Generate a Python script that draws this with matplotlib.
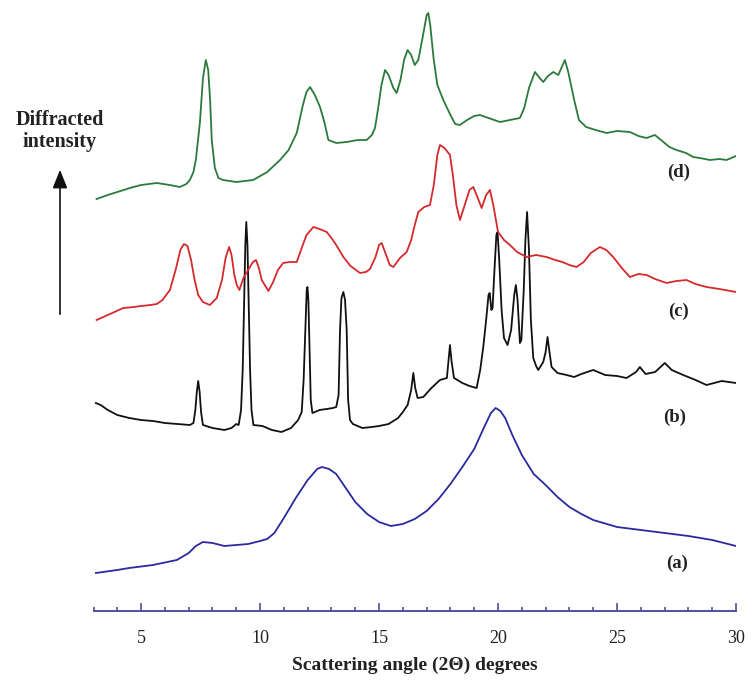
import matplotlib
matplotlib.use("Agg")
import matplotlib.pyplot as plt
from matplotlib.patches import FancyArrowPatch
from matplotlib.ticker import MultipleLocator

# ---- diffraction patterns (2-theta in degrees, intensity in arbitrary units) ----
two_theta_a = [3.1, 4.0, 4.5, 5.5, 6.5, 7.0, 7.3, 7.6, 8.0, 8.5, 9.0, 9.5, 10.0,
               10.3, 10.6, 11.0, 11.5, 12.0, 12.4, 12.6, 12.9, 13.2, 13.6, 14.0,
               14.5, 15.0, 15.5, 16.0, 16.5, 17.0, 17.5, 18.0, 18.5, 19.0, 19.4,
               19.7, 19.9, 20.1, 20.3, 20.6, 21.0, 21.5, 22.0, 22.5, 23.0, 23.5,
               24.0, 25.0, 26.0, 27.0, 28.0, 29.0, 30.0]
intensity_a = [0, 3, 5, 8, 13, 20, 27, 31, 30, 27, 28, 29, 32,
               34, 40, 55, 75, 93, 104, 106, 104, 99, 85, 71,
               59, 51, 47, 49, 54, 62, 74, 89, 106, 124, 145,
               160, 165, 162, 155, 138, 118, 99, 88, 76, 66, 59,
               53, 46, 43, 40, 37, 33, 27]

two_theta_b = [3.1, 3.3, 3.6, 4.0, 4.5, 5.0, 5.5, 6.0, 6.5, 7.05, 7.2, 7.28, 7.34,
               7.4, 7.46, 7.52, 7.6, 8.0, 8.5, 8.8, 9.0, 9.1, 9.2, 9.27, 9.33,
               9.38, 9.42, 9.47, 9.52, 9.58, 9.64, 9.72, 10.1, 10.5, 10.9, 11.3,
               11.6, 11.75, 11.83, 11.9, 11.96, 11.99, 12.03, 12.08, 12.13, 12.2,
               12.5, 12.8, 13.06, 13.2, 13.3, 13.36, 13.42, 13.5, 13.57, 13.64,
               13.7, 13.78, 13.9, 14.3, 14.7, 15.0, 15.4, 15.8, 16.0, 16.2, 16.35,
               16.44, 16.52, 16.62, 16.86, 17.2, 17.56, 17.85, 17.92, 17.98, 18.05,
               18.15, 18.5, 18.8, 19.1, 19.25, 19.38, 19.5, 19.6, 19.65, 19.72,
               19.77, 19.85, 19.93, 19.98, 20.05, 20.15, 20.25, 20.4, 20.55, 20.68,
               20.75, 20.82, 20.92, 20.98, 21.08, 21.15, 21.22, 21.3, 21.38, 21.48,
               21.6, 21.69, 21.9, 22.0, 22.08, 22.15, 22.25, 22.5, 22.88, 23.2,
               23.5, 24.0, 24.5, 25.0, 25.4, 25.8, 25.96, 26.2, 26.6, 27.01, 27.3,
               27.78, 28.3, 28.76, 29.4, 30.0]
intensity_b = [22, 20, 15, 10, 7, 5, 4, 2, 1, 0, 2, 15, 33,
               44, 33, 13, 0, -3, -5, -3, 1, 0, 15, 55, 125,
               180, 203, 180, 125, 55, 15, 0, -1, -5, -7, -3,
               5, 13, 45, 95, 135, 138, 125, 75, 25, 12,
               15, 16, 17, 18, 30, 95, 127, 133, 125, 95,
               25, 5, 1, -3, -2, -1, 1, 7, 13, 20, 35,
               52, 37, 27, 28, 37, 45, 47, 65, 80, 63,
               47, 42, 39, 37, 55, 78, 105, 130, 132, 115,
               117, 155, 190, 193, 165, 115, 87, 80, 95, 130,
               140, 125, 82, 85, 135, 185, 213, 175, 105, 67,
               59, 55, 63, 73, 88, 75, 58, 52, 50, 48,
               51, 55, 50, 49, 47, 53, 58, 51, 53, 62, 55,
               50, 45, 40, 44, 42]

two_theta_c = [3.13, 3.6, 4.25, 4.7, 5.0, 5.4, 5.66, 5.9, 6.21, 6.45, 6.65, 6.8,
               6.95, 7.1, 7.25, 7.4, 7.6, 7.89, 8.18, 8.4, 8.55, 8.7, 8.8, 8.92,
               9.02, 9.13, 9.3, 9.5, 9.7, 9.83, 9.95, 10.07, 10.35, 10.55, 10.75,
               10.97, 11.25, 11.54, 11.75, 11.95, 12.24, 12.5, 12.8, 13.0, 13.2,
               13.5, 13.8, 14.2, 14.45, 14.62, 14.85, 15.0, 15.11, 15.25, 15.45,
               15.6, 15.88, 16.16, 16.35, 16.5, 16.65, 16.9, 17.14, 17.3, 17.45,
               17.56, 17.75, 17.98, 18.1, 18.25, 18.4, 18.6, 18.8, 18.96, 19.15,
               19.31, 19.5, 19.66, 19.8, 20.0, 20.25, 20.5, 20.8, 21.2, 21.6,
               22.04, 22.4, 22.7, 23.0, 23.3, 23.6, 23.9, 24.28, 24.55, 24.84,
               25.2, 25.54, 25.9, 26.24, 26.6, 27.08, 27.5, 27.92, 28.3, 28.76,
               29.3, 30.0]
intensity_c = [0, 5, 12, 13, 14, 15, 16, 20, 30, 50, 70, 76,
               74, 60, 40, 25, 18, 15, 22, 40, 62, 73, 65, 45,
               35, 30, 42, 50, 58, 60, 52, 40, 29, 38, 50,
               57, 58, 58, 72, 85, 93, 91, 88, 82, 75,
               63, 54, 47, 48, 51, 63, 75, 77, 68, 55,
               53, 62, 68, 80, 95, 108, 113, 115, 135, 165,
               175, 172, 165, 145, 115, 100, 115, 130, 133, 122,
               112, 125, 130, 115, 88, 80, 75, 68, 63, 65,
               63, 60, 58, 55, 53, 58, 67, 73, 70, 63,
               52, 43, 46, 45, 41, 37, 39, 40, 36, 33,
               31, 28]

two_theta_d = [3.13, 3.6, 4.0, 4.53, 5.0, 5.66, 6.2, 6.63, 6.9, 7.05, 7.2, 7.3,
               7.47, 7.6, 7.72, 7.82, 7.9, 7.97, 8.1, 8.25, 8.45, 9.0, 9.71, 10.3,
               10.84, 11.2, 11.54, 11.8, 11.95, 12.1, 12.3, 12.52, 12.7, 12.87,
               13.2, 13.64, 14.1, 14.48, 14.7, 14.83, 14.95, 15.1, 15.25, 15.4,
               15.6, 15.74, 15.9, 16.05, 16.2, 16.35, 16.5, 16.65, 16.85, 17.0,
               17.07, 17.15, 17.3, 17.45, 17.7, 18.0, 18.2, 18.4, 18.7, 19.0,
               19.24, 19.6, 20.08, 20.5, 20.92, 21.1, 21.3, 21.55, 21.75, 21.9,
               22.1, 22.32, 22.53, 22.7, 22.81, 22.95, 23.2, 23.4, 23.7, 24.1,
               24.56, 25.0, 25.54, 25.9, 26.24, 26.59, 26.9, 27.2, 27.5, 27.9,
               28.2, 28.48, 28.9, 29.3, 29.6, 30.0]
intensity_d = [0, 4, 7, 11, 14, 16, 14, 12, 15, 19, 27, 39,
               76, 121, 139, 129, 99, 59, 31, 21, 19, 17, 19, 27,
               39, 49, 66, 94, 107, 112, 104, 92, 77, 59,
               56, 57, 59, 59, 64, 71, 89, 114, 129, 124,
               111, 106, 119, 139, 149, 144, 134, 139, 164, 184,
               186, 174, 139, 114, 99, 84, 75, 74, 79, 83,
               84, 81, 77, 79, 81, 91, 111, 127, 121, 117,
               123, 127, 124, 133, 139, 127, 99, 79, 72, 69,
               66, 68, 67, 63, 61, 64, 58, 52, 49, 46,
               42, 41, 39, 40, 39, 43]

curve_tags = ["(a)", "(b)", "(c)", "(d)"]

# ---- figure layout ----
W, H, DPI = 752, 682, 100
fig = plt.figure(figsize=(W / DPI, H / DPI), dpi=DPI)
left_px, right_px, spine_px = 93.5, 736.0, 611.0
ax = fig.add_axes([left_px / W, (H - spine_px) / H,
                   (right_px - left_px) / W, spine_px / H])
ax.set_xlim(3, 30)
ax.set_ylim(0, spine_px)

serif = ["Liberation Serif", "DejaVu Serif"]
axis_color = "#50509a"

series = [
    (two_theta_a, intensity_a, 38, "#2a2aa0"),
    (two_theta_b, intensity_b, 186, "#111111"),
    (two_theta_c, intensity_c, 291, "#d42a2e"),
    (two_theta_d, intensity_d, 412, "#2b7a3b"),
]
for xs, ys, offset, color in series:
    ax.plot(xs, [v + offset for v in ys], color=color, lw=1.3,
            solid_joinstyle="round")

# curve tags at the right-hand side
tag_pos = [(27.52, 48), (27.43, 194), (27.6, 300), (27.6, 439)]
for tag, (tx, ty) in zip(curve_tags, tag_pos):
    ax.text(tx, ty, tag, family=serif, fontweight="bold", fontsize=13.5,
            ha="center", va="center", color="#222222")

# axis styling: only the bottom axis line is shown
for side in ("left", "right", "top"):
    ax.spines[side].set_visible(False)
ax.spines["bottom"].set_color(axis_color)
ax.spines["bottom"].set_linewidth(1.4)
ax.set_yticks([])
ax.xaxis.set_major_locator(MultipleLocator(5))
ax.xaxis.set_minor_locator(MultipleLocator(1))
ax.tick_params(axis="x", which="major", direction="in", length=6, width=1.2,
               color=axis_color, pad=14, labelsize=13)
ax.tick_params(axis="x", which="minor", direction="in", length=3, width=1.2,
               color=axis_color)
for lab in ax.get_xticklabels():
    lab.set_family(serif)
    lab.set_color("#222222")

ax.set_xlabel("Scattering angle (2\u0398) degrees", family=serif,
              fontweight="bold", fontsize=14, color="#222222")
ax.xaxis.set_label_coords(0.5, -54 / spine_px)
ax.xaxis.label.set_va("center")

# intensity direction indicator
fig.text(60 / W, 1 - 120 / H, "Diffracted", family=serif, fontweight="bold",
         fontsize=14.5, ha="center", va="center", color="#222222")
fig.text(60 / W, 1 - 142 / H, "intensity", family=serif, fontweight="bold",
         fontsize=14.5, ha="center", va="center", color="#222222")
arrow = FancyArrowPatch((60 / W, 1 - 317 / H), (60 / W, 1 - 167 / H),
                        transform=fig.transFigure,
                        arrowstyle="-|>,head_length=0.7,head_width=0.28",
                        mutation_scale=16, color="#111111", lw=1.2)
fig.add_artist(arrow)

fig.savefig("out.png", dpi=DPI, facecolor="white")
